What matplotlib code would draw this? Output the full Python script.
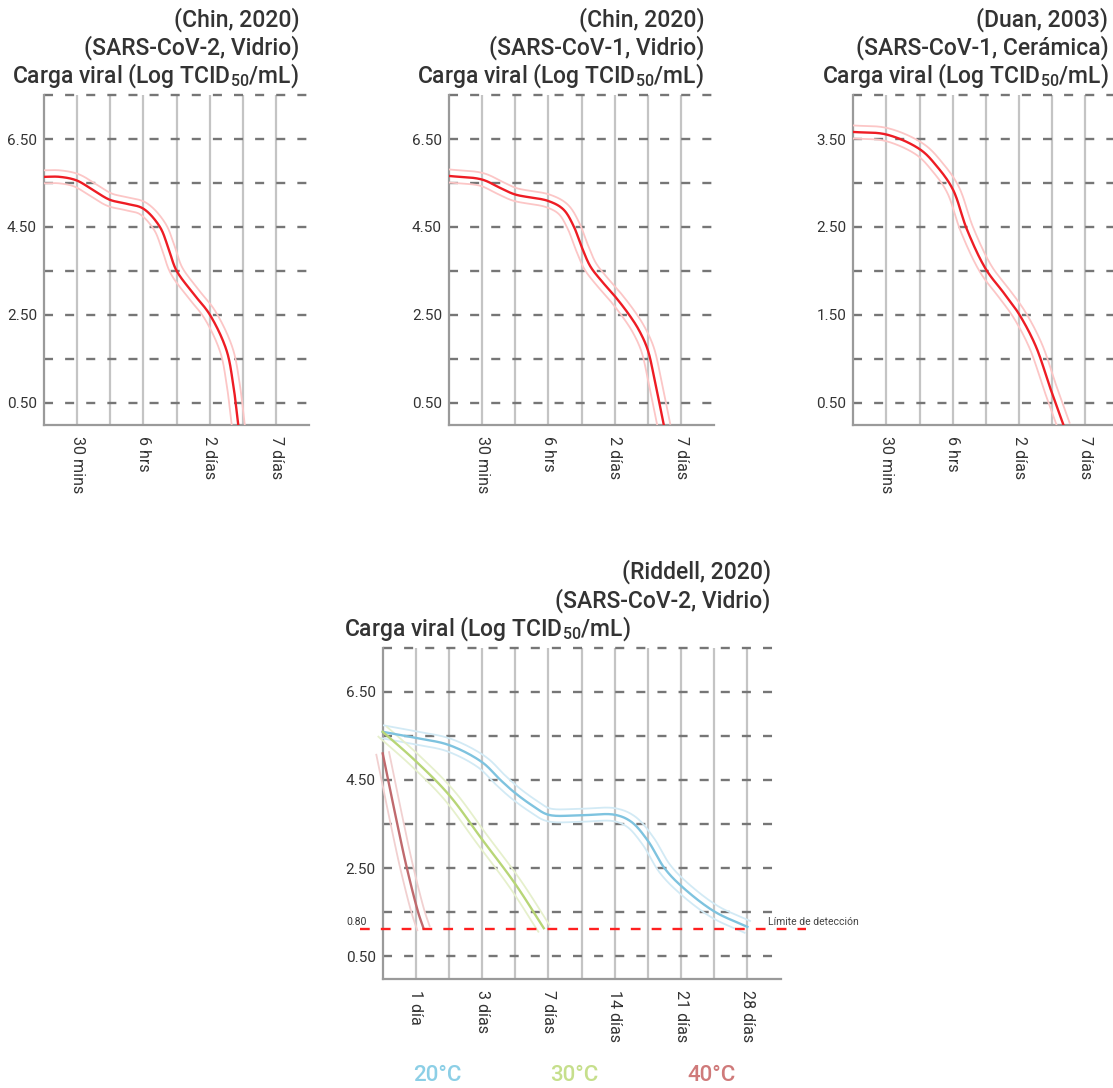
import numpy as np
import matplotlib.pyplot as plt

plt.rcParams['font.family'] = ['Roboto', 'DejaVu Sans']
plt.rcParams['mathtext.fontset'] = 'custom'
plt.rcParams['mathtext.rm'] = 'Roboto'
plt.rcParams['mathtext.default'] = 'regular'
plt.rcParams['lines.scale_dashes'] = False

# ---- data ----
top_xlabels = ["30 mins", "6 hrs", "2 días", "7 días"]
bottom_xlabels = ["1 día", "3 días", "7 días", "14 días", "21 días", "28 días"]

chin_cov2_x = [0, 0.47, 0.98, 1.48, 1.98, 2.48, 2.99, 3.49, 3.74, 3.99, 4.49, 5.0, 5.5, 5.7, 5.86]
chin_cov2_y = [5.64, 5.64, 5.56, 5.34, 5.12, 5.03, 4.92, 4.51, 4.05, 3.52, 3.0, 2.51, 1.71, 0.96, 0.0]

chin_cov1_x = [0, 0.99, 1.54, 1.99, 3.0, 3.45, 3.76, 3.99, 4.26, 4.56, 5.0, 5.42, 5.72, 5.99, 6.22, 6.48]
chin_cov1_y = [5.66, 5.58, 5.39, 5.24, 5.09, 4.90, 4.52, 4.07, 3.61, 3.31, 2.93, 2.52, 2.17, 1.72, 0.96, 0.0]

duan_x = [0, 1.01, 2.02, 2.52, 3.0, 3.43, 4.0, 4.54, 5.0, 5.5, 5.95, 6.34]
duan_y = [3.58, 3.55, 3.38, 3.19, 2.93, 2.47, 2.02, 1.75, 1.51, 1.15, 0.66, 0.25]

t20_x = [0, 1, 2, 3, 3.55, 4, 4.55, 5, 6, 7, 7.5, 8, 8.5, 9, 10, 11]
t20_y = [5.59, 5.45, 5.29, 4.9, 4.5, 4.2, 3.9, 3.71, 3.70, 3.71, 3.55, 3.12, 2.5, 2.1, 1.52, 1.17]

t30_x = [0, 0.99, 2.0, 2.99, 4.0, 4.86]
t30_y = [5.59, 4.93, 4.16, 3.16, 2.14, 1.14]

t40_x = [0, 0.44, 0.73, 1.07, 1.23]
t40_y = [5.1, 3.5, 2.5, 1.5, 1.14]

detection_limit = 1.13
legend_labels = ["20°C", "30°C", "40°C"]
legend_colors = ["#8ccfe6", "#c6df8c", "#cf7a7a"]

W, H = 1113, 1088
UNIT = 33.15
fig = plt.figure(figsize=(W / 100, H / 100), dpi=100)
TXT = "#333333"
ylabel_txt = "Carga viral (Log TCID$_{50}$/mL)"


def add_axes(left, top, width, height):
    return fig.add_axes([left / W, 1 - (top + height) / H, width / W, height / H])


def smooth(P, n=24, alpha=0.5):
    # centripetal Catmull-Rom through the points (in pixel space)
    P = np.vstack([2 * P[0] - P[1], P, 2 * P[-1] - P[-2]])
    out = []
    for i in range(len(P) - 3):
        p0, p1, p2, p3 = P[i:i + 4]
        t0 = 0.0
        t1 = t0 + np.linalg.norm(p1 - p0) ** alpha
        t2 = t1 + np.linalg.norm(p2 - p1) ** alpha
        t3 = t2 + np.linalg.norm(p3 - p2) ** alpha
        t = np.linspace(t1, t2, n, endpoint=False)[:, None]
        a1 = (t1 - t) / (t1 - t0) * p0 + (t - t0) / (t1 - t0) * p1
        a2 = (t2 - t) / (t2 - t1) * p1 + (t - t1) / (t2 - t1) * p2
        a3 = (t3 - t) / (t3 - t2) * p2 + (t - t2) / (t3 - t2) * p3
        b1 = (t2 - t) / (t2 - t0) * a1 + (t - t0) / (t2 - t0) * a2
        b2 = (t3 - t) / (t3 - t1) * a2 + (t - t1) / (t3 - t1) * a3
        out.append((t2 - t) / (t2 - t1) * b1 + (t - t1) / (t2 - t1) * b2)
    out.append(P[-2][None])
    return np.vstack(out)


def draw_curve(ax, xs, ys, color, band, clip=True, off=6.5):
    disp = smooth(ax.transData.transform(np.column_stack([xs, ys])))
    inv = ax.transData.inverted()
    pts = inv.transform(disp)
    ax.plot(pts[:, 0], pts[:, 1], color=color, lw=1.7, zorder=4, clip_on=clip)
    d = np.gradient(disp, axis=0)
    nrm = np.column_stack([-d[:, 1], d[:, 0]])
    nrm /= np.linalg.norm(nrm, axis=1)[:, None]
    for s in (1, -1):
        b = inv.transform(disp + s * off * nrm)
        ax.plot(b[:, 0], b[:, 1], color=band, lw=1.3, zorder=3, clip_on=clip)


def setup(ax, xmax, ymin, ymax, step, yticks, xticks, xlabels):
    ax.set_xlim(0, xmax)
    ax.set_ylim(ymin, ymax)
    for s in ["top", "right"]:
        ax.spines[s].set_visible(False)
    for s in ["left", "bottom"]:
        ax.spines[s].set_color("#9a9a9a")
        ax.spines[s].set_linewidth(1.6)
    for x in range(1, xmax):
        ax.axvline(x, color="#c4c4c4", lw=1.6, zorder=1)
    for lev in np.arange(yticks[0], ymax + 1e-6, step):
        ax.axhline(lev, color="#767676", lw=1.7, dashes=(6.5, 8.7), zorder=2, clip_on=False)
    ax.set_yticks(yticks, ["%.2f" % v for v in yticks])
    ax.set_xticks(xticks, xlabels, rotation=270)
    ax.tick_params(axis="y", length=0, pad=5, labelsize=11, labelcolor=TXT)
    ax.tick_params(axis="x", length=0, pad=8, labelsize=11.5, labelcolor=TXT)


def titles(lines, right, top, left=None):
    offs = [68.5, 40.3, 12.2]
    for i, s in enumerate(lines):
        if left is not None and i == 2:
            x, ha = left, "left"
        else:
            x, ha = right, "right"
        fig.text(x / W, 1 - (top - offs[i]) / H, s, ha=ha, va="baseline",
                 fontsize=16.5, fontweight="medium", color=TXT)


RED, PINK = "#ee1c24", "#fcc6c6"
top_panels = [
    (44.0, chin_cov2_x, chin_cov2_y, 0.0, 7.5, 1.0, [0.5, 2.5, 4.5, 6.5],
     ["(Chin, 2020)", "(SARS-CoV-2, Vidrio)", ylabel_txt]),
    (449.0, chin_cov1_x, chin_cov1_y, 0.0, 7.5, 1.0, [0.5, 2.5, 4.5, 6.5],
     ["(Chin, 2020)", "(SARS-CoV-1, Vidrio)", ylabel_txt]),
    (853.3, duan_x, duan_y, 0.25, 4.0, 0.5, [0.5, 1.5, 2.5, 3.5],
     ["(Duan, 2003)", "(SARS-CoV-1, Cerámica)", ylabel_txt]),
]
for left, xs, ys, y0, y1, step, yt, tl in top_panels:
    ax = add_axes(left, 95, 8 * UNIT, 330)
    setup(ax, 8, y0, y1, step, yt, [1, 3, 5, 7], top_xlabels)
    draw_curve(ax, xs, ys, RED, PINK)
    titles(tl, left + 8 * UNIT - 10, 95)

# bottom panel
bl, bt = 382.7, 647.5
ax = add_axes(bl, bt, 12 * UNIT, 331)
setup(ax, 12, 0.0, 7.5, 1.0, [0.5, 2.5, 4.5, 6.5], [1, 3, 5, 7, 9, 11], bottom_xlabels)
draw_curve(ax, t20_x, t20_y, "#7ec3df", "#d2eaf5", clip=False)
draw_curve(ax, t30_x, t30_y, "#b8d677", "#e6f0cc", clip=False)
draw_curve(ax, t40_x, t40_y, "#c06a6e", "#f1d0d0", clip=False)
ax.axhline(detection_limit, xmin=-0.057, xmax=1.064, color="#ff2020", lw=1.7,
           dashes=(7, 8), zorder=5, clip_on=False)
ax.annotate("0.80", xy=(0, detection_limit), xytext=(-16, 4), textcoords="offset pixels",
            ha="right", va="baseline", fontsize=7.5, color=TXT, annotation_clip=False)
ax.annotate("Límite de detección", xy=(1.0, detection_limit), xycoords=("axes fraction", "data"),
            xytext=(-13, 4), textcoords="offset pixels", ha="left", va="baseline",
            fontsize=7.5, color="#444444", annotation_clip=False)
titles(["(Riddell, 2020)", "(SARS-CoV-2, Vidrio)", ylabel_txt], bl + 12 * UNIT - 9.7, bt, left=343.8)

for lab, col, cx in zip(legend_labels, legend_colors, [437.5, 574.0, 711.3]):
    fig.text(cx / W, 1 - 1080.7 / H, lab, ha="center", va="baseline", fontsize=16,
             fontweight="medium", color=col)

fig.savefig("out.png", dpi=100)
